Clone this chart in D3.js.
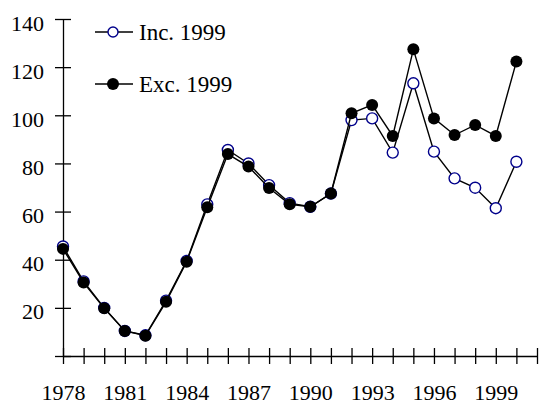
<!DOCTYPE html>
<html>
<head>
<meta charset="utf-8">
<script src="https://cdn.jsdelivr.net/npm/d3@7"></script>
<style>
  html, body { margin: 0; padding: 0; background: #fff; }
  svg { display: block; }
  text { font-family: "Liberation Serif", "Times New Roman", serif; fill: #000; }
</style>
</head>
<body>
<svg id="chart" width="540" height="404"></svg>
<script>
// Yearly index, 1978-2000
const years = d3.range(1978, 2001);
const incValues = [45.5, 31, 20, 10.4, 8.6, 23, 39.5, 63, 85.6, 80, 71, 63.5, 62, 67.5, 98, 98.7, 84.5, 113.3, 84.9, 73.8, 69.9, 61.4, 80.7];
const excValues = [44.5, 30.5, 19.8, 10.4, 8.4, 22.5, 39.2, 61.8, 83.9, 78.7, 69.8, 63, 62, 67.5, 100.8, 104.3, 91.4, 127.4, 98.7, 91.8, 96, 91.4, 122.3];
const yTicks = [0, 20, 40, 60, 80, 100, 120, 140];
const xLabelYears = [1978, 1981, 1984, 1987, 1990, 1993, 1996, 1999];
const seriesNames = ["Inc. 1999", "Exc. 1999"];

const svg = d3.select("#chart");
const margin = { left: 63, right: 3, top: 19, bottom: 48 };
const W = 540, H = 404;

const x = d3.scaleLinear().domain([1978, 2001]).range([margin.left, W - margin.right]);
const y = d3.scaleLinear().domain([0, 140]).range([H - margin.bottom, margin.top]);

// Axes: ticks cross the axis lines
const yAxis = d3.axisLeft(y).tickValues(yTicks).tickSizeInner(8).tickSizeOuter(0)
  .tickFormat(d => d === 0 ? "" : d);
const gy = svg.append("g").attr("transform", `translate(${margin.left},0)`).call(yAxis);
gy.select(".domain").attr("stroke", "#000").attr("stroke-width", 1.3);
gy.selectAll(".tick line").attr("x2", 8).attr("x1", -8).attr("stroke", "#000").attr("stroke-width", 1.3);
gy.selectAll(".tick text").attr("x", -19).attr("dy", "0.5em")
  .style("font-size", "22px").style("font-family", "Liberation Serif, serif");

const xAxis = d3.axisBottom(x).tickValues(d3.range(1978, 2002)).tickSizeInner(8).tickSizeOuter(0)
  .tickFormat(d => xLabelYears.includes(d) ? d : "");
const gx = svg.append("g").attr("transform", `translate(0,${y(0)})`).call(xAxis);
gx.select(".domain").attr("stroke", "#000").attr("stroke-width", 1.3);
gx.selectAll(".tick line").attr("y1", -8).attr("y2", 8).attr("stroke", "#000").attr("stroke-width", 1.3);
gx.selectAll(".tick text").attr("y", 43.5).attr("dy", "0")
  .style("font-size", "22px").style("font-family", "Liberation Serif, serif");

const line = d3.line().x((d, i) => x(years[i])).y(d => y(d));

// Including 1999: open circles
svg.append("path").datum(incValues).attr("d", line)
  .attr("fill", "none").attr("stroke", "#000").attr("stroke-width", 1.4);
svg.append("g").selectAll("circle").data(incValues).join("circle")
  .attr("cx", (d, i) => x(years[i])).attr("cy", d => y(d)).attr("r", 5.5)
  .attr("fill", "#fff").attr("stroke", "#00008b").attr("stroke-width", 1.4);

// Excluding 1999: filled circles
svg.append("path").datum(excValues).attr("d", line)
  .attr("fill", "none").attr("stroke", "#000").attr("stroke-width", 1.4);
svg.append("g").selectAll("circle").data(excValues).join("circle")
  .attr("cx", (d, i) => x(years[i])).attr("cy", d => y(d)).attr("r", 6)
  .attr("fill", "#000");

// Legend
const legend = svg.append("g");
const legendRows = [
  { name: seriesNames[0], y: 32, open: true },
  { name: seriesNames[1], y: 84, open: false }
];
legendRows.forEach(r => {
  legend.append("line").attr("x1", 95).attr("x2", 133).attr("y1", r.y).attr("y2", r.y)
    .attr("stroke", "#000").attr("stroke-width", 1.4);
  if (r.open) {
    legend.append("circle").attr("cx", 113).attr("cy", r.y).attr("r", 5)
      .attr("fill", "#fff").attr("stroke", "#00008b").attr("stroke-width", 1.4);
  } else {
    legend.append("circle").attr("cx", 113).attr("cy", r.y).attr("r", 6).attr("fill", "#000");
  }
  legend.append("text").attr("x", 139).attr("y", r.y).attr("dy", "0.34em")
    .style("font-size", "23px").text(r.name);
});
</script>
</body>
</html>
